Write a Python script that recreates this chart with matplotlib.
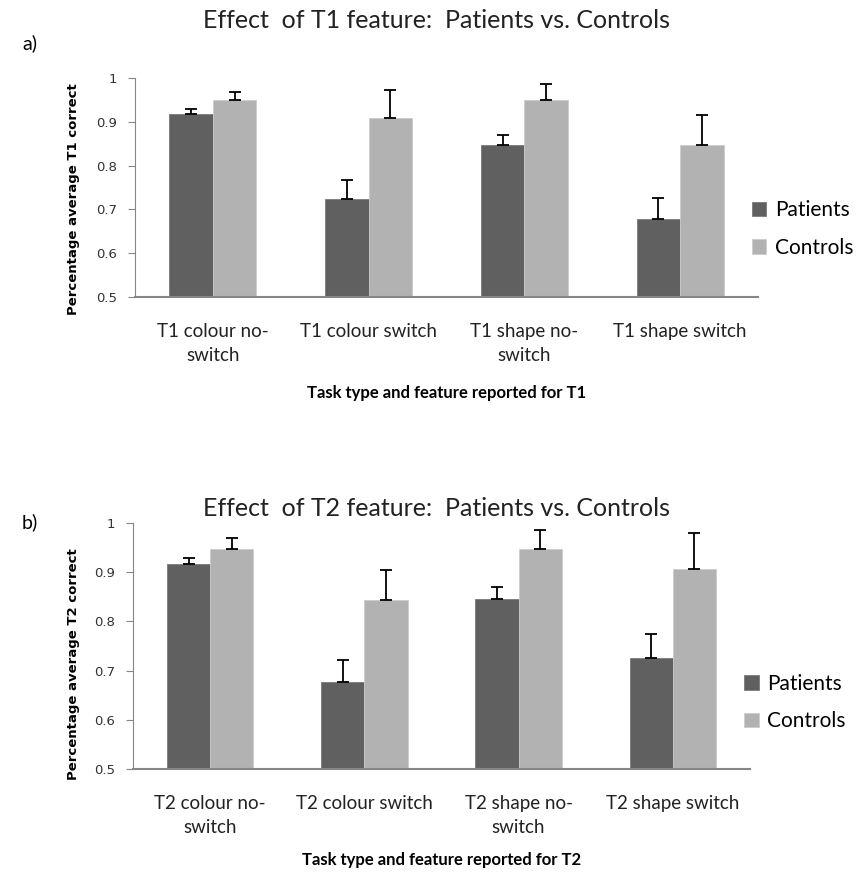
import matplotlib.pyplot as plt
import numpy as np

plt.rcParams['font.family'] = ['Lato', 'DejaVu Sans']

# top panel (T1)
cats_t1 = ['T1 colour no-\nswitch', 'T1 colour switch', 'T1 shape no-\nswitch', 'T1 shape switch']
patients_t1 = [0.917, 0.724, 0.846, 0.677]
patients_t1_err = [0.013, 0.044, 0.025, 0.050]
controls_t1 = [0.949, 0.908, 0.949, 0.846]
controls_t1_err = [0.020, 0.064, 0.037, 0.070]

# bottom panel (T2)
cats_t2 = ['T2 colour no-\nswitch', 'T2 colour switch', 'T2 shape no-\nswitch', 'T2 shape switch']
patients_t2 = [0.917, 0.677, 0.846, 0.725]
patients_t2_err = [0.012, 0.044, 0.023, 0.049]
controls_t2 = [0.948, 0.843, 0.948, 0.907]
controls_t2_err = [0.021, 0.062, 0.037, 0.073]

dark = '#606060'
light = '#b2b2b2'
spine = '#868686'

fig = plt.figure(figsize=(8.57, 8.74), dpi=100)
W, H = 857, 874


def panel(rect, cats, pv, pe, cv, ce, xlabel, leg_x, leg_y, lpad):
    ax = fig.add_axes(rect)
    x = np.arange(len(cats))
    w = 0.28
    ax.bar(x - w / 2, pv, w, color=dark, edgecolor='#7a7a7a', linewidth=0.6,
           label='Patients', zorder=2)
    ax.bar(x + w / 2, cv, w, color=light, edgecolor='#cccccc', linewidth=0.6,
           label='Controls', zorder=2)
    ax.errorbar(x - w / 2, pv, yerr=[np.zeros(len(pe)), pe], fmt='none', ecolor='black',
                elinewidth=1.3, capsize=4, capthick=1.3, zorder=3)
    ax.errorbar(x + w / 2, cv, yerr=[np.zeros(len(ce)), ce], fmt='none', ecolor='black',
                elinewidth=1.3, capsize=4, capthick=1.3, zorder=3)
    ax.set_ylim(0.5, 1.0)
    ax.set_xlim(-0.5, len(cats) - 0.5)
    ax.set_yticks([0.5, 0.6, 0.7, 0.8, 0.9, 1.0])
    ax.set_yticklabels(['0.5', '0.6', '0.7', '0.8', '0.9', '1'], family='DejaVu Sans',
                       fontsize=9.5, color='#333333')
    ax.set_xticks(x)
    ax.set_xticklabels(cats, fontsize=13.5, color='#222222', linespacing=1.45)
    ax.tick_params(axis='x', length=0, pad=19)
    ax.tick_params(axis='y', direction='out', length=5, color=spine, pad=8)
    for s in ['top', 'right']:
        ax.spines[s].set_visible(False)
    ax.spines['left'].set_color(spine)
    ax.spines['bottom'].set_color(spine)
    ax.spines['bottom'].set_linewidth(1.5)
    ax.set_xlabel(xlabel, fontsize=12, fontweight='bold', labelpad=lpad)
    ax.legend(loc='center left', bbox_to_anchor=(leg_x, leg_y), frameon=False,
              fontsize=15, handlelength=0.7, handleheight=0.7, handletextpad=0.4,
              labelspacing=0.85)
    return ax


ax1 = panel([135 / W, 1 - 297 / H, 623 / W, 219 / H], cats_t1, patients_t1, patients_t1_err,
            controls_t1, controls_t1_err, 'Task type and feature reported for T1', 0.96, 0.31, 15)
ax2 = panel([133 / W, 1 - 769 / H, 617 / W, 246 / H], cats_t2, patients_t2, patients_t2_err,
            controls_t2, controls_t2_err, 'Task type and feature reported for T2', 0.96, 0.27, 12)

fig.text(73 / W, 1 - 199 / H, 'Percentage average T1 correct', rotation=90, ha='center',
         va='center', family='DejaVu Sans', fontweight='bold', fontsize=9.5)
fig.text(73 / W, 1 - 664 / H, 'Percentage average T2 correct', rotation=90, ha='center',
         va='center', family='DejaVu Sans', fontweight='bold', fontsize=9.5)

fig.text(436 / W, 1 - 20 / H, 'Effect  of T1 feature:  Patients vs. Controls', ha='center',
         va='center', fontsize=18, color='#222222')
fig.text(436 / W, 1 - 508 / H, 'Effect  of T2 feature:  Patients vs. Controls', ha='center',
         va='center', fontsize=18, color='#222222')
fig.text(22 / W, 1 - 43 / H, 'a)', ha='left', va='center', fontsize=14)
fig.text(22 / W, 1 - 522 / H, 'b)', ha='left', va='center', fontsize=14)

fig.savefig('out.png', dpi=100)
